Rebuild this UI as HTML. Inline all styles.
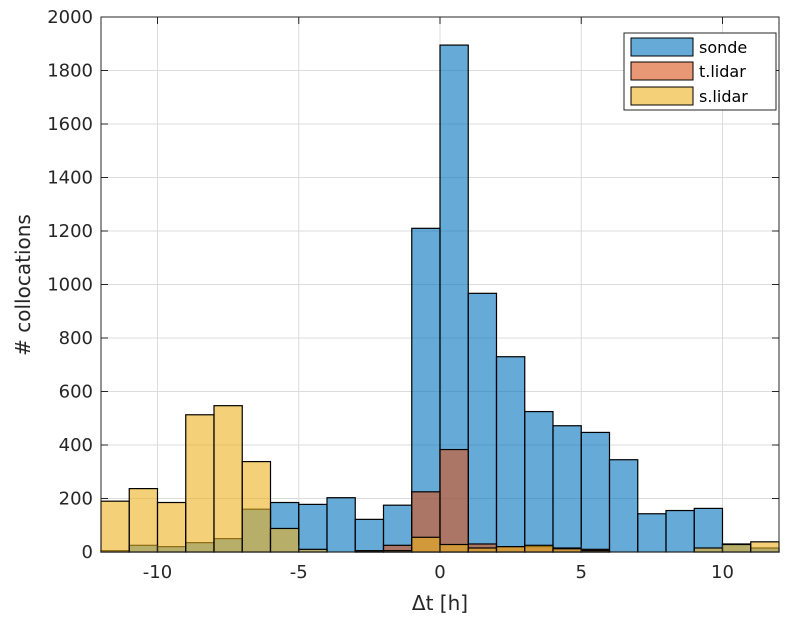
<!DOCTYPE html>
<html><head><meta charset="utf-8"><style>body{margin:0;background:#fff}svg{display:block;font-family:"DejaVu Sans","Liberation Sans",sans-serif}</style></head>
<body>
<svg id="c" width="788" height="621"></svg>
<script>
const binStarts=[-12,-11,-10,-9,-8,-7,-6,-5,-4,-3,-2,-1,0,1,2,3,4,5,6,7,8,9,10,11];
const sonde=[5,25,20,35,50,160,185,178,203,122,175,1210,1895,967,730,525,472,447,345,143,155,163,30,15];
const tlidar=[0,0,0,0,0,0,0,0,0,5,25,225,383,30,20,20,15,10,0,0,0,0,0,0];
const slidar=[190,237,185,513,547,338,88,10,0,3,5,55,28,15,20,25,12,5,0,0,0,15,28,38];
const xTicks=[-10,-5,0,5,10];
const yTicks=[0,200,400,600,800,1000,1200,1400,1600,1800,2000];
const L=101,R=779,T=17,B=552;
const X=v=>L+(v+12)/24*(R-L), Y=v=>B-v/2000*(B-T);
const s=document.getElementById('c');const NS='http://www.w3.org/2000/svg';
function mk(t,a,p){const e=document.createElementNS(NS,t);for(const k in a)e.setAttribute(k,a[k]);(p||s).appendChild(e);return e;}
mk('rect',{x:L,y:T,width:R-L,height:B-T,fill:'#fff'});
const grid=mk('g',{});
xTicks.forEach(v=>mk('line',{x1:X(v),x2:X(v),y1:T,y2:B,stroke:'#dcdcdc','stroke-width':1},grid));
yTicks.forEach(v=>mk('line',{x1:L,x2:R,y1:Y(v),y2:Y(v),stroke:'#dcdcdc','stroke-width':1},grid));
function series(arr,col,name){const g=mk('g',{});
arr.forEach((v,i)=>{if(v<=0)return;const r=mk('rect',{x:X(binStarts[i]),y:Y(v),width:X(binStarts[i]+1)-X(binStarts[i]),height:B-Y(v),fill:col,'fill-opacity':0.6,stroke:'#000','stroke-width':1.2},g);
});}
series(sonde,'#0072BD','sonde');series(tlidar,'#D95319','t-lidar');series(slidar,'#EDB120','s-lidar');
const ax=mk('g',{});
mk('rect',{x:L,y:T,width:R-L,height:B-T,fill:'none',stroke:'#262626','stroke-width':1},ax);
xTicks.forEach(v=>{mk('line',{x1:X(v),x2:X(v),y1:B,y2:B-7,stroke:'#262626'},ax);mk('line',{x1:X(v),x2:X(v),y1:T,y2:T+7,stroke:'#262626'},ax);
const t=mk('text',{x:X(v),y:B+26,'text-anchor':'middle','font-size':18,fill:'#262626'},ax);t.textContent=v;});
yTicks.forEach(v=>{mk('line',{x1:L,x2:L+7,y1:Y(v),y2:Y(v),stroke:'#262626'},ax);mk('line',{x1:R,x2:R-7,y1:Y(v),y2:Y(v),stroke:'#262626'},ax);
const t=mk('text',{x:L-8,y:Y(v)+6,'text-anchor':'end','font-size':18,fill:'#262626'},ax);t.textContent=v;});
</script>
<svg width="788" height="621" style="position:absolute;left:0;top:0">
<text x="440" y="610" text-anchor="middle" font-size="20" fill="#262626" font-family="DejaVu Sans,sans-serif">Δt [h]</text>
<text transform="translate(30,285) rotate(-90)" text-anchor="middle" font-size="20" fill="#262626" font-family="DejaVu Sans,sans-serif"># collocations</text>
<g font-family="DejaVu Sans,sans-serif" font-size="16" fill="#000">
<rect x="624" y="33" width="152" height="77" fill="#fff" stroke="#262626"/>
<g><rect x="631" y="38" width="62" height="18" fill="#0072BD" fill-opacity="0.6" stroke="#000"/><text x="699" y="53">sonde</text></g>
<g><rect x="631" y="62" width="62" height="18" fill="#D95319" fill-opacity="0.6" stroke="#000"/><text x="699" y="77">t.lidar</text></g>
<g><rect x="631" y="87" width="62" height="18" fill="#EDB120" fill-opacity="0.6" stroke="#000"/><text x="699" y="102">s.lidar</text></g>
</g>
</svg>
</body></html>
